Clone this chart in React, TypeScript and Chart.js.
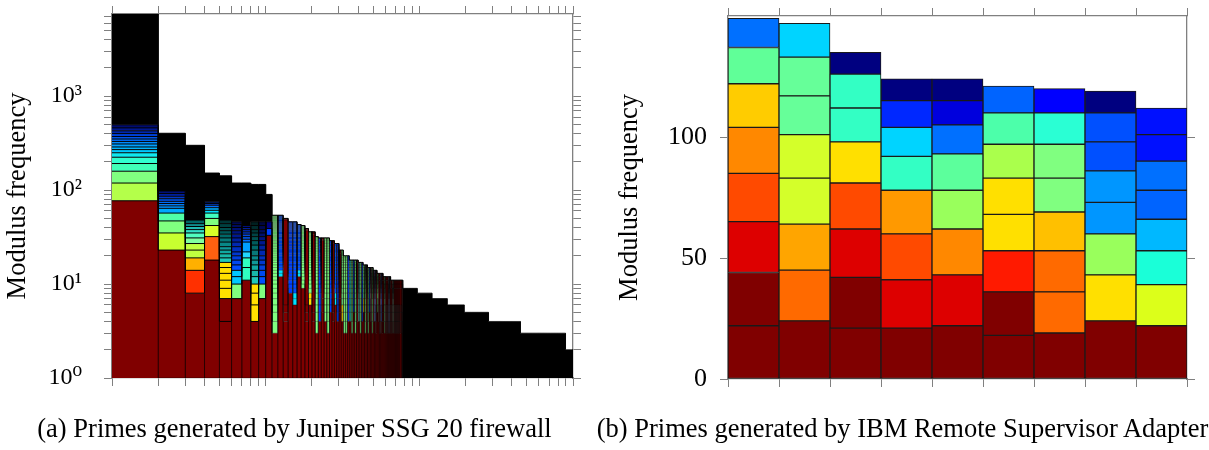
import React, { useEffect, useRef } from "react";
import { Chart, registerables } from "chart.js";

Chart.register(...registerables);
Chart.defaults.font.family = "'Liberation Serif', 'DejaVu Serif', serif";
Chart.defaults.color = "#000";

// ---------------- Panel (a): Juniper SSG 20 (rank / frequency, log-log) ----------------
const rankAxisMax = 1000;
const freqAxisMax = 7500;
// envelope of the rank-frequency staircase: first rank of each run and its total
const stepStartRanks = [1, 2, 3, 4, 5, 6, 8, 10, 11, 13, 14, 16, 17, 18, 19, 21, 22, 26, 28, 30, 32, 35, 40, 43, 46, 50, 53, 58, 65, 78, 97, 121, 152, 196, 282, 455, 894];
const stepTotals = [7500, 403, 300, 152, 142, 119, 115, 90, 54, 50, 46, 43, 42, 39, 36, 32, 31, 29, 27, 23, 20, 18, 17, 16, 15, 14, 13, 12, 11, 9, 8, 7, 6, 5, 4, 3, 2];

// stacked segments (cumulative tops) of the ten highest-ranked primes
const leadBarBounds: number[][] = [
  [77, 119, 159, 192, 224, 250, 270, 288, 310, 330, 350, 372, 400, 428, 460, 496],
  [23, 35, 47, 57, 64, 68, 72, 76, 81, 86, 92, 98],
  [8, 14, 19, 23, 27, 31, 35, 38, 41, 44, 48],
  [18, 32, 42, 50, 57, 61, 65, 69, 72, 75],
  [4, 7, 9, 11, 13, 15, 17, 19, 21, 23, 25, 28, 31, 34, 37, 40, 44, 48],
  [7, 10, 12, 14, 16, 18, 20, 22, 25, 28, 31, 34, 37, 40, 43, 46],
  [11, 15, 19, 22, 28, 30, 32, 34, 36, 38, 40, 42],
  [4, 6, 8, 10, 12, 14, 16, 18, 20, 23, 26, 29, 32, 35, 38, 42, 46],
  [7, 10, 12, 14, 16, 18, 20, 23, 26, 29, 32, 35, 38, 42, 46],
  [33, 39, 46],
];
const leadBarColors: string[][] = [
  ["#800000", "#b4ff4a", "#80ff80", "#40ffb8", "#30ffd0", "#10e8f0", "#00c8ff", "#00b4ff", "#00a0ff", "#008cff", "#0070ff", "#0058f0", "#0040d8", "#0028b0", "#001890", "#000c70"],
  ["#800000", "#c8ff30", "#80ff80", "#50ffa8", "#00a8ff", "#0094ff", "#0080ff", "#006cf8", "#0054e8", "#0038c8", "#0020a0", "#001078"],
  ["#800000", "#ff3000", "#ffb000", "#c0ff40", "#c0ff40", "#80ffa0", "#50ffc0", "#30e0c8", "#20b8b0", "#108c8c", "#006464"],
  ["#800000", "#ff6010", "#d8ff28", "#80ff80", "#40ffc0", "#00e0ff", "#00b0ff", "#0070ff", "#0040d0", "#002080"],
  ["#800000", "#800000", "#ffe000", "#ffe000", "#ffe000", "#ffe000", "#ffe000", "#20c8b8", "#18b8a8", "#10a8a0", "#109898", "#088888", "#087878", "#006868", "#005858", "#004c4c", "#004040", "#003434"],
  ["#800000", "#80ff80", "#00c8ff", "#00c8ff", "#0050ff", "#0048f0", "#0040e0", "#0038d0", "#0030c0", "#0028b0", "#0020a0", "#001890", "#001480", "#001070", "#000c60", "#000850"],
  ["#800000", "#30ffc0", "#30ffc0", "#20d8ff", "#00a0ff", "#0070ff", "#0058f0", "#0048e0", "#0038c8", "#0028b0", "#001c98", "#001080"],
  ["#800000", "#ffe000", "#ffe000", "#ffe000", "#20c8b8", "#18b8a8", "#10a8a0", "#109898", "#088888", "#087878", "#006868", "#005c5c", "#005050", "#004444", "#003838", "#002c2c", "#002020"],
  ["#800000", "#80ff80", "#0050ff", "#0048f0", "#0040e0", "#0038d0", "#0030c0", "#0028b0", "#0020a0", "#001890", "#001480", "#001070", "#000c60", "#000850", "#000640"],
  ["#800000", "#0040ff", "#000080"],
];
// ranks 11..77: dark-red base height, then moduli stripes of a given tone
const midFirstRank = 11;
const midBaseTops = [
  3, 12, 4, 8, 6, 12, 9, 4, 6, 4,
  3, 4, 5, 4, 3, 5, 4, 6, 4, 5,
  4, 3, 3, 4, 4, 3, 5, 3, 4, 4,
  3, 4, 5, 3, 4, 3, 5, 4, 3, 4,
  4, 3, 5, 4, 3, 4, 3, 4, 3, 4,
  3, 4, 3, 4, 3, 4, 3, 4, 3, 4,
  3, 4, 3, 4, 3, 4, 3,
];
const midStripeTones = "gcrbccgryr" + "gbrggbrcbr" + "yggbtgbgrt" + "gbygrgbrgr" + "brgrrbrrgr" + "rrbrrrgrrr" + "rrrrrrr";
const logTickDecades = [1, 10, 100, 1000];
const yLogLabels = ["10\u2070", "10\u00b9", "10\u00b2", "10\u00b3"];

// ---------------- Panel (b): IBM Remote Supervisor Adapter ----------------
const ibmCategories = ["1", "2", "3", "4", "5", "6", "7", "8", "9"];
const ibmLayer1 = [22, 24, 21, 21, 22, 18, 19, 24, 22];
const ibmLayer2 = [22, 21, 21, 20, 21, 18, 17, 19, 17];
const ibmLayer3 = [21, 19, 20, 19, 19, 17, 17, 17, 14];
const ibmLayer4 = [20, 19, 19, 18, 16, 15, 16, 13, 13];
const ibmLayer5 = [19, 18, 17, 14, 15, 15, 14, 13, 12];
const ibmLayer6 = [18, 16, 14, 12, 12, 14, 14, 12, 12];
const ibmLayer7 = [15, 16, 14, 11, 10, 13, 13, 12, 11];
const ibmLayer8 = [12, 14, 9, 9, 9, 11, 10, 9, 11];
const ibmColors1 = ["#800000", "#800000", "#800000", "#800000", "#800000", "#800000", "#800000", "#800000", "#800000"];
const ibmColors2 = ["#800000", "#ff6a00", "#800000", "#dd0000", "#dd0000", "#800000", "#ff6a00", "#ffe000", "#dcff1a"];
const ibmColors3 = ["#dd0000", "#ffa500", "#dd0000", "#ff4a00", "#ff8800", "#ff1a00", "#ff6a00", "#99ff5c", "#1affd8"];
const ibmColors4 = ["#ff4a00", "#d4ff2a", "#ff4a00", "#ff9900", "#99ff5c", "#ffe000", "#ffc000", "#0096ff", "#00b8ff"];
const ibmColors5 = ["#ff8800", "#d4ff2a", "#ffe000", "#33ffc4", "#5cff9c", "#ffe000", "#80ff80", "#0096ff", "#0064ff"];
const ibmColors6 = ["#ffcc00", "#66ff99", "#33ffc4", "#00d4ff", "#0070ff", "#aaff4c", "#80ff80", "#0050ff", "#0070ff"];
const ibmColors7 = ["#60ff98", "#66ff99", "#33ffc4", "#0028ff", "#0000dd", "#4cffaa", "#2affd4", "#0050ff", "#0010ff"];
const ibmColors8 = ["#0070ff", "#00d4ff", "#000080", "#000080", "#000080", "#0064ff", "#0000ff", "#000080", "#0010ff"];
const ibmMax = 150;
const ibmTicks = [0, 50, 100];

const ibmLayers = [ibmLayer1, ibmLayer2, ibmLayer3, ibmLayer4, ibmLayer5, ibmLayer6, ibmLayer7, ibmLayer8];
const ibmColors = [ibmColors1, ibmColors2, ibmColors3, ibmColors4, ibmColors5, ibmColors6, ibmColors7, ibmColors8];

// ---------------- helpers ----------------
const DARK_RED = "#800000";
const AXIS_GREY = "#808080";
const FONT = "'Liberation Serif', 'DejaVu Serif', serif";

function totalAtRank(rank: number): number {
  let v = stepTotals[0];
  for (let i = 0; i < stepStartRanks.length; i++) if (stepStartRanks[i] <= rank) v = stepTotals[i];
  return v;
}

function toneShade(tone: string, i: number): string {
  switch (tone) {
    case "g": return "#80ff80";
    case "b": return "#0040ff";
    case "c": return i < 2 ? "#00e0ff" : "#0050ff";
    case "t": return "#20c8b0";
    case "y": return i < 2 ? "#ffe000" : "#80ff80";
    default: return DARK_RED;
  }
}

type Seg = { top: number; color: string };
function segmentsOfRank(rank: number): Seg[] {
  if (rank <= leadBarBounds.length) {
    return leadBarBounds[rank - 1].map((top, i) => ({ top, color: leadBarColors[rank - 1][i] }));
  }
  const m = rank - midFirstRank;
  if (m >= 0 && m < midBaseTops.length) {
    const base = midBaseTops[m];
    const total = totalAtRank(rank);
    const tone = midStripeTones[m];
    const segs: Seg[] = [{ top: base, color: DARK_RED }];
    if (tone === "r") {
      // dark-red columns: a few small moduli at the bottom and top, one large block between
      const tops: number[] = [];
      for (let v = base + 1; v <= Math.min(base + 2, total); v++) tops.push(v);
      if (total - 2 > base + 2) tops.push(total - 2);
      for (let v = Math.max(total - 1, base + 3); v <= total; v++) tops.push(v);
      tops.forEach((top) => segs.push({ top, color: DARK_RED }));
    } else {
      for (let v = base + 1, i = 0; v <= total; v++, i++) segs.push({ top: v, color: toneShade(tone, i) });
    }
    return segs;
  }
  return [];
}

function logTicks(max: number) {
  const out: { value: number }[] = [];
  for (const d of logTickDecades) for (let m = 1; m <= 9; m++) if (d * m <= max) out.push({ value: d * m });
  return out;
}

const tickGrid = { drawOnChartArea: false, drawTicks: true, tickLength: 8, color: AXIS_GREY, lineWidth: 1 };
const axisBorder = { display: true, color: AXIS_GREY, width: 1.3 };

function fixSize(prop: "width" | "height", size: number) {
  return (s: any) => {
    s[prop] = size;
    s.paddingTop = 0; s.paddingBottom = 0; s.paddingLeft = 0; s.paddingRight = 0;
  };
}

function juniperConfig(): any {
  const ranks: number[] = [];
  for (let r = 1; r <= rankAxisMax; r++) ranks.push(r);
  const barRanks = ranks.slice(0, -1);
  const bars = barRanks.map(segmentsOfRank);
  const layerCount = Math.max(...bars.map((b) => b.length));
  const leadCount = leadBarBounds.length;
  const datasets: any[] = [];
  for (let j = 0; j < layerCount; j++) {
    const ys = bars.map((b) => (b.length === 0 ? 1 : b[j] ? b[j].top : b[b.length - 1].top));
    const cols = bars.map((b) => (b[j] ? b[j].color : "transparent"));
    const edge = bars.map((b, i) => (b[j] ? (i < leadCount ? "#000" : "rgba(0,0,0,0.6)") : "transparent"));
    ys.push(ys[ys.length - 1]);
    datasets.push({
      type: "line",
      xAxisID: "x",
      yAxisID: "y",
      data: ys.map((y, i) => ({ x: ranks[i], y })),
      parsing: false,
      stepped: true,
      fill: j === 0 ? "start" : "-1",
      backgroundColor: "transparent",
      borderColor: "#000",
      borderWidth: 1,
      pointRadius: 0,
      pointHoverRadius: 0,
      segment: {
        backgroundColor: (c: any) => cols[c.p0DataIndex] ?? "transparent",
        borderColor: (c: any) => edge[c.p0DataIndex] ?? "transparent",
        borderWidth: (c: any) => (c.p0DataIndex < leadCount ? 1 : 0.6),
      },
    });
  }
  const totals = barRanks.map(totalAtRank);
  totals.push(totals[totals.length - 1]);
  datasets.push({
    type: "line",
    xAxisID: "x",
    yAxisID: "y",
    data: totals.map((y, i) => ({ x: ranks[i], y })),
    parsing: false,
    stepped: true,
    fill: "-1",
    backgroundColor: "#000",
    borderColor: "#000",
    borderWidth: 1,
    pointRadius: 0,
  });
  // vertical separators between adjacent bars in the coloured region
  const sep: { x: number; y: number }[] = [];
  for (let k = 2; k <= midFirstRank + midBaseTops.length; k++) {
    const h = Math.max(totalAtRank(k - 1), totalAtRank(k));
    sep.push({ x: k, y: 1 }, { x: k, y: h }, { x: k, y: 1 });
  }
  datasets.push({
    type: "line",
    xAxisID: "x",
    yAxisID: "y",
    data: sep,
    parsing: false,
    fill: false,
    borderColor: "rgba(0,0,0,0.75)",
    borderWidth: 0.6,
    pointRadius: 0,
  });

  return {
    type: "line",
    data: { datasets },
    options: {
      animation: false,
      responsive: false,
      devicePixelRatio: 1,
      events: [],
      layout: { padding: 0 },
      plugins: { legend: { display: false }, tooltip: { enabled: false }, filler: { drawTime: "beforeDatasetsDraw" } },
      scales: {
        x: {
          type: "logarithmic", axis: "x", position: "bottom", min: 1, max: rankAxisMax,
          afterBuildTicks: (s: any) => { s.ticks = logTicks(rankAxisMax); },
          ticks: { display: false, autoSkip: false },
          grid: tickGrid, border: axisBorder,
          afterFit: fixSize("height", 72),
        },
        xTop: {
          type: "logarithmic", axis: "x", position: "top", min: 1, max: rankAxisMax,
          afterBuildTicks: (s: any) => { s.ticks = logTicks(rankAxisMax); },
          ticks: { display: false, autoSkip: false },
          grid: tickGrid, border: axisBorder,
          afterFit: fixSize("height", 14),
        },
        y: {
          type: "logarithmic", axis: "y", position: "left", min: 1, max: freqAxisMax,
          afterBuildTicks: (s: any) => { s.ticks = logTicks(freqAxisMax); },
          ticks: {
            autoSkip: false, padding: 22, color: "#000",
            font: { family: FONT, size: 24 },
            callback: (v: any) => {
              const i = logTickDecades.indexOf(Number(v));
              return i >= 0 ? yLogLabels[i] : "";
            },
          },
          grid: tickGrid, border: axisBorder,
          title: { display: true, text: "Modulus frequency", color: "#000", font: { family: FONT, size: 26.5 }, padding: { top: 2, bottom: 0 } },
          afterFit: fixSize("width", 112),
        },
        y2: {
          type: "logarithmic", axis: "y", position: "right", min: 1, max: freqAxisMax,
          afterBuildTicks: (s: any) => { s.ticks = logTicks(freqAxisMax); },
          ticks: { display: false, autoSkip: false },
          grid: tickGrid, border: axisBorder,
          afterFit: fixSize("width", 27),
        },
      },
    },
  };
}

function ibmConfig(): any {
  return {
    type: "bar",
    data: {
      labels: ibmCategories,
      datasets: ibmLayers.map((vals, l) => ({
        label: "layer " + (l + 1),
        data: vals,
        backgroundColor: ibmColors[l],
        borderColor: "#1a1a1a",
        borderWidth: 1,
        borderSkipped: false,
        barPercentage: 1,
        categoryPercentage: 1,
        xAxisID: "x",
        yAxisID: "y",
      })),
    },
    options: {
      animation: false,
      responsive: false,
      devicePixelRatio: 1,
      events: [],
      layout: { padding: 0 },
      plugins: { legend: { display: false }, tooltip: { enabled: false } },
      scales: {
        x: {
          type: "category", axis: "x", position: "bottom", stacked: true, offset: true,
          ticks: { display: false },
          grid: { ...tickGrid, offset: true }, border: axisBorder,
          afterFit: fixSize("height", 71),
        },
        xTop: {
          type: "category", axis: "x", position: "top", offset: true,
          ticks: { display: false },
          grid: { ...tickGrid, offset: true }, border: axisBorder,
          afterFit: fixSize("height", 16),
        },
        y: {
          type: "linear", axis: "y", position: "left", stacked: true, min: 0, max: ibmMax,
          afterBuildTicks: (s: any) => { s.ticks = ibmTicks.map((v) => ({ value: v })); },
          ticks: { autoSkip: false, padding: 13, color: "#000", font: { family: FONT, size: 26 } },
          grid: tickGrid, border: axisBorder,
          title: { display: true, text: "Modulus frequency", color: "#000", font: { family: FONT, size: 26.5 }, padding: { top: 14, bottom: 0 } },
          afterFit: fixSize("width", 128),
        },
        y2: {
          type: "linear", axis: "y", position: "right", min: 0, max: ibmMax,
          afterBuildTicks: (s: any) => { s.ticks = ibmTicks.map((v) => ({ value: v })); },
          ticks: { display: false },
          grid: tickGrid, border: axisBorder,
          afterFit: fixSize("width", 22),
        },
      },
    },
  };
}

const captionStyle = (center: number): React.CSSProperties => ({
  position: "absolute",
  left: center - 320,
  width: 640,
  top: 415,
  textAlign: "center",
  fontFamily: FONT,
  fontSize: "26.5px",
  lineHeight: 1,
  whiteSpace: "nowrap",
  color: "#000",
});

export default function App() {
  const leftRef = useRef<HTMLCanvasElement>(null);
  const rightRef = useRef<HTMLCanvasElement>(null);
  useEffect(() => {
    const a = new Chart(leftRef.current as HTMLCanvasElement, juniperConfig());
    const b = new Chart(rightRef.current as HTMLCanvasElement, ibmConfig());
    return () => {
      a.destroy();
      b.destroy();
    };
  }, []);
  return (
    <div style={{ position: "absolute", left: 0, top: 0, width: 1209, height: 450, background: "#fff", overflow: "hidden" }}>
      <canvas ref={leftRef} width={600} height={450} style={{ position: "absolute", left: 0, top: 0 }} />
      <canvas ref={rightRef} width={609} height={450} style={{ position: "absolute", left: 600, top: 0 }} />
      <div style={captionStyle(294.5)}>(a) Primes generated by Juniper SSG 20 firewall</div>
      <div style={captionStyle(902.5)}>(b) Primes generated by IBM Remote Supervisor Adapter</div>
    </div>
  );
}
